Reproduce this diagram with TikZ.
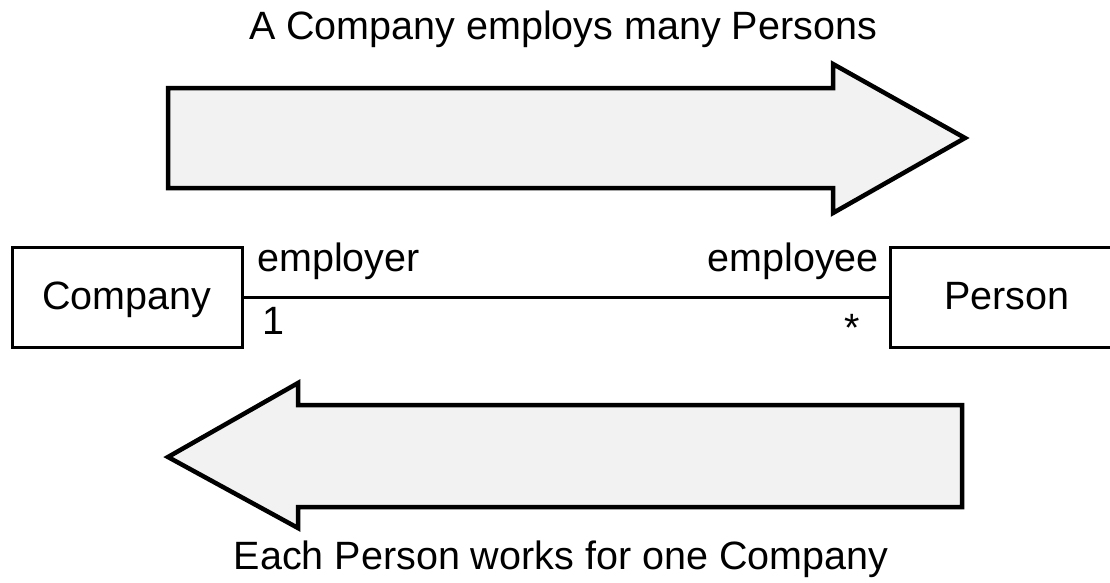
\documentclass[tikz,border=0pt]{standalone}
\usepackage{fontspec}
\setmainfont{Liberation Sans}
\begin{document}
\begin{tikzpicture}[x=1pt,y=-1pt,
  every node/.style={font=\fontsize{39.5}{47}\selectfont},
  classbox/.style={draw=black,line width=3pt,minimum width=230pt,minimum height=100pt,inner sep=0pt},
  bigarrow/.style={draw=black,line width=4.5pt,fill=black!5,line join=miter},
  lbl/.style={anchor=base,inner sep=0pt},
  assoc/.style={draw=black,line width=3pt}]
\useasboundingbox (0,0) rectangle (1110,582);
% title texts
\node[lbl] (toptext) at (563,39) {A Company employs many Persons};
\node[lbl] (bottext) at (561,569) {Each Person works for one Company};
% top arrow
\draw[bigarrow] (168,88) -- (833,88) -- (833,64) -- (965,138) -- (833,213) -- (833,188) -- (168,188) -- cycle;
% bottom arrow
\draw[bigarrow] (962,405) -- (298,405) -- (298,383) -- (168,457) -- (298,528) -- (298,507) -- (962,507) -- cycle;
% classes
\node[classbox] (company) at (127,297) {};
\node[lbl] (companytxt) at (127,309) {Company};
\node[classbox] (person) at (1005,297) {};
\node[lbl] (persontxt) at (1007,309) {Person};
\draw[assoc] (company.east) -- (person.west);
% role labels
\node[lbl,anchor=base west] (employer) at (257,271) {employer};
\node[lbl,anchor=base east] (employee) at (879,271) {employee};
\node[lbl] (one) at (273,334) {1};
\node[lbl] (many) at (852,341) {*};
\end{tikzpicture}
\end{document}
